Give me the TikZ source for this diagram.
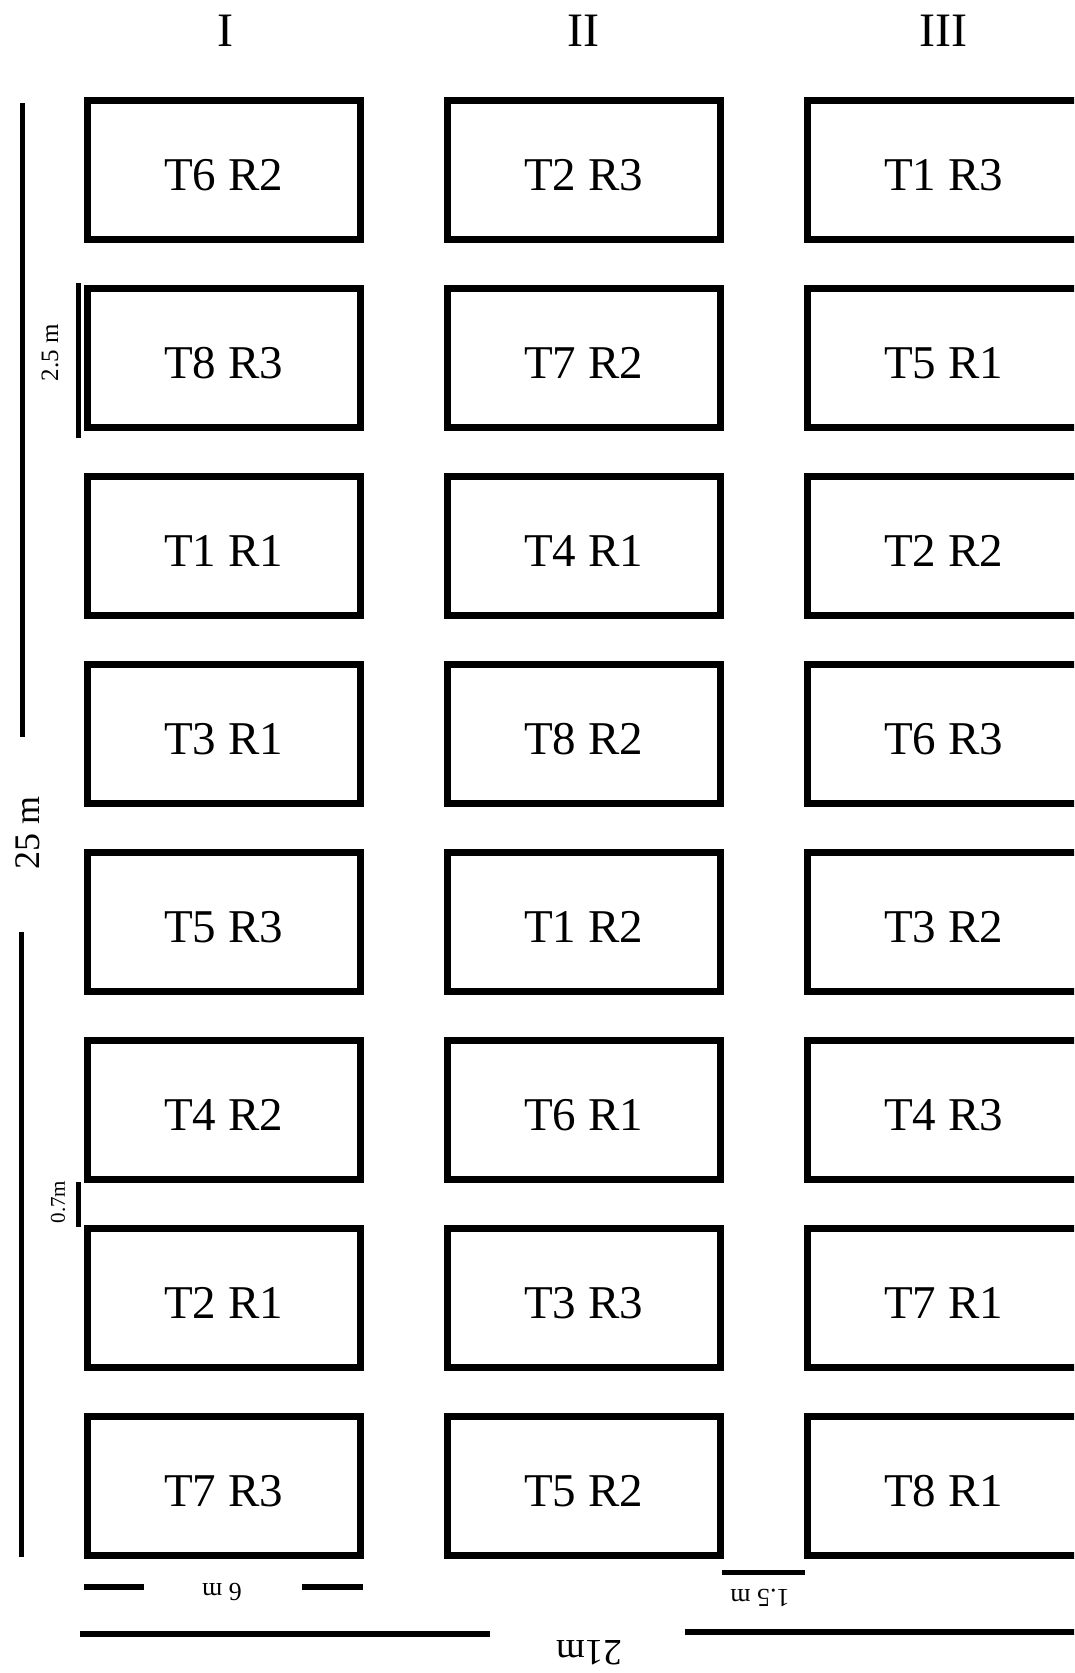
\documentclass[tikz,border=0pt]{standalone}
\usepackage{fontspec}
\setmainfont{Liberation Serif}
\usetikzlibrary{positioning}

\begin{document}
\begin{tikzpicture}[
  x=1pt, y=-1pt,
  plotbox/.style={draw, line width=7pt, minimum width=273pt, minimum height=139pt, inner sep=0pt, text height=40pt, text depth=0pt, font=\fontsize{47}{52}\selectfont},
  blocklabel/.style={font=\fontsize{48}{52}\selectfont, inner sep=0pt},
  dimline/.style={line width=5pt},
  dimtext/.style={inner sep=0pt}
]
  \useasboundingbox (0,0) rectangle (1074,1673);
  \clip (0,0) rectangle (1074,1673);

  % block I
  \node[plotbox] (t6r2) at (223.5,170) {T6 R2};
  \node[plotbox, below=42pt of t6r2] (t8r3) {T8 R3};
  \node[plotbox, below=42pt of t8r3] (t1r1) {T1 R1};
  \node[plotbox, below=42pt of t1r1] (t3r1) {T3 R1};
  \node[plotbox, below=42pt of t3r1] (t5r3) {T5 R3};
  \node[plotbox, below=42pt of t5r3] (t4r2) {T4 R2};
  \node[plotbox, below=42pt of t4r2] (t2r1) {T2 R1};
  \node[plotbox, below=42pt of t2r1] (t7r3) {T7 R3};

  % block II
  \node[plotbox, right=80pt of t6r2] (t2r3) {T2 R3};
  \node[plotbox, below=42pt of t2r3] (t7r2) {T7 R2};
  \node[plotbox, below=42pt of t7r2] (t4r1) {T4 R1};
  \node[plotbox, below=42pt of t4r1] (t8r2) {T8 R2};
  \node[plotbox, below=42pt of t8r2] (t1r2) {T1 R2};
  \node[plotbox, below=42pt of t1r2] (t6r1) {T6 R1};
  \node[plotbox, below=42pt of t6r1] (t3r3) {T3 R3};
  \node[plotbox, below=42pt of t3r3] (t5r2) {T5 R2};

  % block III
  \node[plotbox, right=80pt of t2r3] (t1r3) {T1 R3};
  \node[plotbox, below=42pt of t1r3] (t5r1) {T5 R1};
  \node[plotbox, below=42pt of t5r1] (t2r2) {T2 R2};
  \node[plotbox, below=42pt of t2r2] (t6r3) {T6 R3};
  \node[plotbox, below=42pt of t6r3] (t3r2) {T3 R2};
  \node[plotbox, below=42pt of t3r2] (t4r3) {T4 R3};
  \node[plotbox, below=42pt of t4r3] (t7r1) {T7 R1};
  \node[plotbox, below=42pt of t7r1] (t8r1) {T8 R1};

  \node[blocklabel] (blk1) at (225,31) {I};
  \node[blocklabel] (blk2) at (583,31) {II};
  \node[blocklabel] (blk3) at (943,31) {III};

  % dimensions
  \draw[dimline] (22,103) -- (22,737);
  \draw[dimline] (21,932) -- (21,1557);
  \node[dimtext, rotate=90, font=\fontsize{36}{40}\selectfont] (len) at (28,833) {25 m};

  \draw[dimline] (78.5,283) -- (78.5,438);
  \node[dimtext, rotate=90, font=\fontsize{25}{28}\selectfont] (plotlen) at (50,353) {2.5 m};

  \draw[dimline] (78.5,1182) -- (78.5,1227);
  \node[dimtext, rotate=90, font=\fontsize{21}{24}\selectfont] (rowgap) at (58,1202) {0.7m};

  \draw[dimline, line width=6pt] (84,1587) -- (144,1587);
  \draw[dimline, line width=6pt] (302,1587) -- (363,1587);
  \node[dimtext, rotate=180, font=\fontsize{26}{30}\selectfont] (plotwd) at (222,1592) {6 m};

  \draw[dimline] (722,1572) -- (805,1572);
  \node[dimtext, rotate=180, font=\fontsize{26}{30}\selectfont] (colgap) at (760,1598) {1.5 m};

  \draw[dimline, line width=6pt] (80,1634) -- (490,1634);
  \draw[dimline, line width=6pt] (685,1632) -- (1080,1632);
  \node[dimtext, rotate=180, font=\fontsize{37}{40}\selectfont] (wd) at (589,1653) {21m};
\end{tikzpicture}
\end{document}
